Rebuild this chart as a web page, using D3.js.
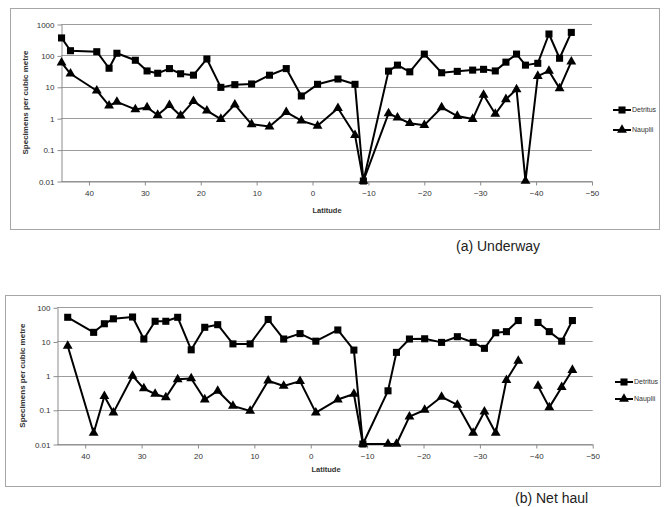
<!DOCTYPE html>
<html>
<head>
<meta charset="utf-8">
<script src="https://cdn.jsdelivr.net/npm/d3@7"></script>
<style>
  body { margin: 0; background: #fff; }
  svg { display: block; font-family: "Liberation Sans", Arial, sans-serif; }
</style>
</head>
<body>
<svg id="chart" width="667" height="507"></svg>
<script>
// (a) Underway
const latTop = [44.9, 43.3, 38.6, 36.4, 35.0, 31.7, 29.6, 27.7, 25.6, 23.6, 21.3, 18.9, 16.4, 13.9, 10.9, 7.7, 4.7, 2.0, -0.9,
  -4.55, -7.6, -9.1, -13.6, -15.2, -17.4, -20.0, -23.1, -25.9, -28.65, -30.6, -32.7, -34.6, -36.5, -38.1, -40.3, -42.3, -44.2, -46.3];
const detritusTop = [360, 141, 131, 39, 117, 70, 32, 27, 38, 26, 23.5, 77, 9.6, 11.7, 12.3, 23.4, 38, 5.1, 12,
  17.7, 12, 0.01, 31.6, 49, 30, 110, 28, 31, 34, 36, 32, 61, 110, 49, 56, 480, 81, 540];
const naupliiTop = [59, 26, 7.5, 2.5, 3.3, 1.9, 2.2, 1.26, 2.6, 1.2, 3.5, 1.75, 0.94, 2.7, 0.64, 0.54, 1.55, 0.83, 0.57,
  2.07, 0.29, 0.01, 1.43, 1.04, 0.69, 0.6, 2.2, 1.17, 0.94, 5.5, 1.36, 4.0, 8.3, 0.01, 22, 32, 8.9, 63];

// (b) Net haul  (null = no sample)
const latNet = [43.1, 38.5, 36.6, 35.0, 31.6, 29.6, 27.6, 25.7, 23.6, 21.2, 18.8, 16.5, 13.8, 10.75, 7.55, 4.8, 1.9, -0.9,
  -4.8, -7.65, -9.25, -13.7, -15.2, -17.5, -20.2, -23.2, -26.0, -28.8, -30.8, -32.8, -34.7, -36.8, -38.5, -40.3, -42.3, -44.5, -46.4];
const detritusNet = [51, 18.5, 33, 46, 52, 11.8, 39, 39, 51, 5.7, 26, 31, 8.5, 8.5, 44, 11.8, 17, 10.2,
  21.7, 5.6, 0.01, 0.36, 4.8, 11.8, 12, 9.4, 13.8, 9.4, 6.3, 18, 19.4, 41, null, 36, 19.4, 10.2, 41];
const naupliiNet = [7.4, 0.021, 0.25, 0.083, 0.98, 0.42, 0.29, 0.23, 0.78, 0.83, 0.2, 0.36, 0.13, 0.093, 0.71, 0.5, 0.69, 0.083,
  0.2, 0.29, 0.01, 0.01, 0.01, 0.063, 0.099, 0.24, 0.14, 0.021, 0.088, 0.021, 0.74, 2.7, null, 0.5, 0.118, 0.46, 1.46];

const xTicks = [40, 30, 20, 10, 0, -10, -20, -30, -40, -50];
const yTicksTop = [1000, 100, 10, 1, 0.1, 0.01];
const yTicksNet = [100, 10, 1, 0.1, 0.01];
const seriesNames = ['Detritus', 'Nauplii'];

const svg = d3.select('#chart');

function drawPanel(p) {
  const g = svg.append('g');

  // chart area frame
  g.append('rect')
    .attr('x', p.frame[0] + 0.5).attr('y', p.frame[1] + 0.5)
    .attr('width', p.frame[2]).attr('height', p.frame[3])
    .attr('fill', '#fff').attr('stroke', '#a6a6a6').attr('stroke-width', 1);

  const x = d3.scaleLinear().domain([45, -50]).range([p.left, p.right]);
  const y = d3.scaleLog().domain([0.01, p.yTicks[0]]).range([p.bottom, p.top]);

  // gridlines
  g.append('g').selectAll('line')
    .data(p.yTicks)
    .join('line')
    .attr('x1', p.left).attr('x2', p.right)
    .attr('y1', (d) => Math.round(y(d)) + 0.5).attr('y2', (d) => Math.round(y(d)) + 0.5)
    .attr('stroke', '#9c9c9c').attr('stroke-width', 1);

  // y axis
  const yAxis = d3.axisLeft(y).tickValues(p.yTicks)
    .tickFormat((d) => String(d)).tickSize(4).tickSizeOuter(0);
  const ya = g.append('g').attr('transform', `translate(${p.left + 0.5},0.5)`).call(yAxis);
  ya.selectAll('path, line').attr('stroke', '#8c8c8c');
  ya.selectAll('text').attr('font-size', 8).attr('fill', '#333').attr('x', -7);

  // x axis
  const xAxis = d3.axisBottom(x).tickValues(xTicks).tickSize(4).tickSizeOuter(0);
  const xa = g.append('g').attr('transform', `translate(0,${Math.round(p.bottom) + 0.5})`).call(xAxis);
  xa.selectAll('path, line').attr('stroke', '#8c8c8c');
  xa.selectAll('text').attr('font-size', 8).attr('fill', '#333').attr('dy', '0.71em').attr('y', 9);

  // axis titles
  g.append('text')
    .attr('transform', `translate(${p.yTitleX},${(p.top + p.bottom) / 2}) rotate(-90)`)
    .attr('text-anchor', 'middle').attr('font-size', 8).attr('font-weight', 'bold').attr('fill', '#333')
    .text('Specimens per cubic metre');
  g.append('text')
    .attr('x', p.xTitleX).attr('y', p.xTitleY)
    .attr('text-anchor', 'middle').attr('font-size', 7.5).attr('font-weight', 'bold').attr('fill', '#333')
    .text('Latitude');

  // series
  const series = [
    { name: seriesNames[0], values: p.detritus, symbol: d3.symbolSquare, size: 50 },
    { name: seriesNames[1], values: p.nauplii, symbol: d3.symbolTriangle, size: 42 },
  ];
  const line = d3.line()
    .defined((d) => d[1] != null)
    .x((d) => x(d[0]))
    .y((d) => y(d[1]));

  series.forEach((s) => {
    const pts = p.lat.map((lat, i) => [lat, s.values[i]]);
    g.append('path')
      .datum(pts)
      .attr('d', line)
      .attr('fill', 'none').attr('stroke', '#000').attr('stroke-width', 2)
      .attr('stroke-linejoin', 'round');
    g.append('g').selectAll('path')
      .data(pts.filter((d) => d[1] != null))
      .join('path')
      .attr('transform', (d) => `translate(${x(d[0])},${y(d[1])})`)
      .attr('d', d3.symbol().type(s.symbol).size(s.size))
      .attr('fill', '#000');
  });

  // legend
  const leg = g.append('g').selectAll('g')
    .data(series)
    .join('g')
    .attr('transform', (d, i) => `translate(${p.legendX},${p.legendY + i * p.legendStep})`);
  leg.append('line').attr('x1', 0).attr('x2', 18).attr('stroke', '#000').attr('stroke-width', 2);
  leg.append('path').attr('transform', 'translate(9,0)')
    .attr('d', (d) => d3.symbol().type(d.symbol).size(d.size)()).attr('fill', '#000');
  leg.append('text').attr('x', 19).attr('dy', '0.35em')
    .attr('font-size', 7).attr('fill', '#333').text((d) => d.name);

  // caption
  svg.append('text')
    .attr('x', p.captionX).attr('y', p.captionY)
    .attr('font-size', 14).attr('fill', '#222')
    .text(p.caption);
}

drawPanel({
  frame: [10, 8, 649, 221],
  left: 61, right: 592, top: 24, bottom: 181,
  yTicks: yTicksTop,
  lat: latTop, detritus: detritusTop, nauplii: naupliiTop,
  yTitleX: 28, xTitleX: 327, xTitleY: 213,
  legendX: 613, legendY: 110, legendStep: 20,
  caption: '(a) Underway', captionX: 456, captionY: 251,
});

drawPanel({
  frame: [5, 295, 655, 191],
  left: 57, right: 592.7, top: 307.3, bottom: 444,
  yTicks: yTicksNet,
  lat: latNet, detritus: detritusNet, nauplii: naupliiNet,
  yTitleX: 25, xTitleX: 326, xTitleY: 472,
  legendX: 615, legendY: 382, legendStep: 17,
  caption: '(b) Net haul', captionX: 515, captionY: 503,
});
</script>
</body>
</html>
